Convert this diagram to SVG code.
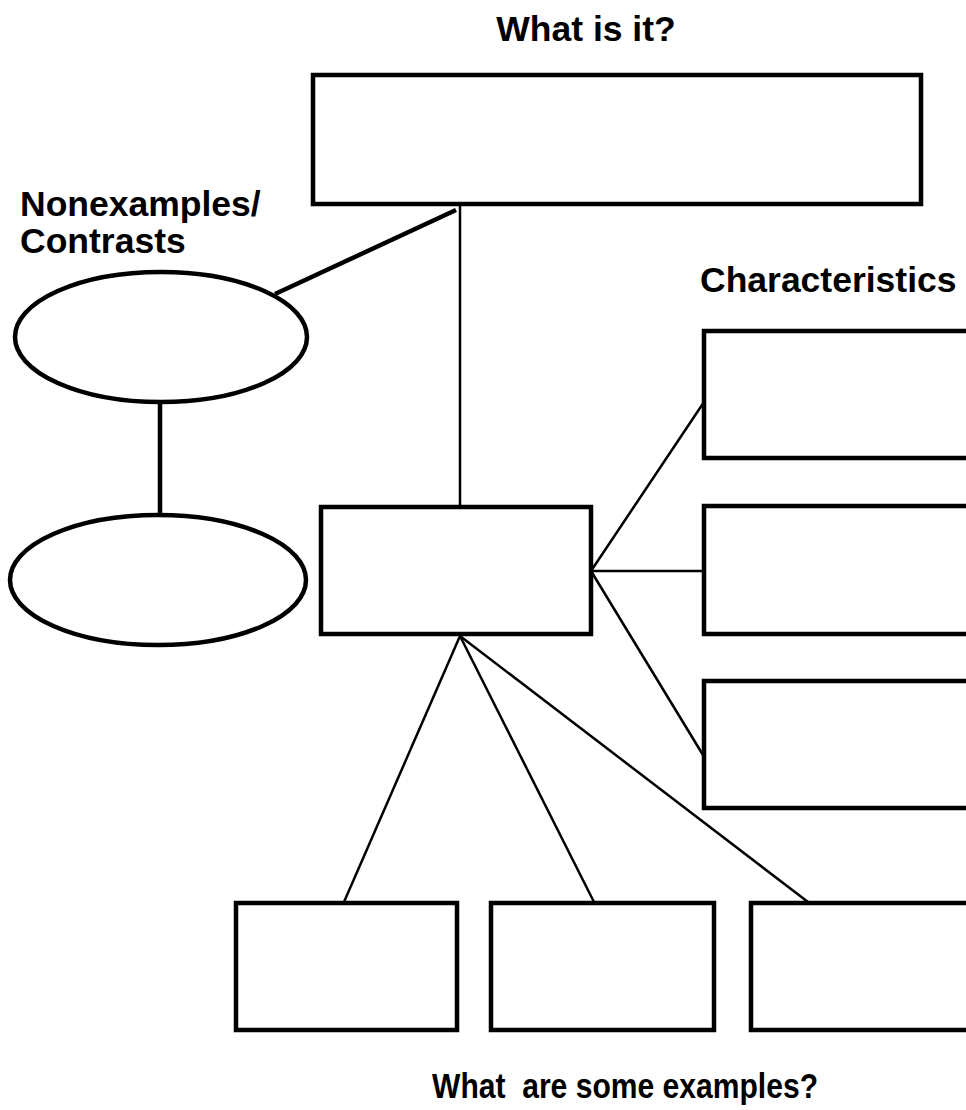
<svg xmlns="http://www.w3.org/2000/svg" width="966" height="1110" viewBox="0 0 966 1110">
<style>
.box{fill:#fff;stroke:#000;stroke-width:4.5}
.ell{fill:#fff;stroke:#000;stroke-width:4.5}
.thin{stroke:#000;stroke-width:2.5;fill:none}
.thick{stroke:#000;stroke-width:4.5;fill:none}
.lbl{font-family:"Liberation Sans",Arial,sans-serif;font-weight:bold;font-size:35.5px;fill:#000}
</style>
<rect width="966" height="1110" fill="#fff"/>
<g id="connectors">
<line class="thin" x1="460" y1="205" x2="460" y2="506"/>
<line class="thick" x1="456" y1="210" x2="275" y2="294"/>
<line class="thick" x1="160" y1="402" x2="160" y2="515"/>
<line class="thin" x1="591" y1="571" x2="704" y2="402"/>
<line class="thin" x1="591" y1="571" x2="704" y2="571"/>
<line class="thin" x1="591" y1="571" x2="703" y2="755"/>
<line class="thin" x1="460" y1="636" x2="344" y2="902"/>
<line class="thin" x1="460" y1="636" x2="594" y2="902"/>
<line class="thin" x1="460" y1="636" x2="808" y2="902"/>
</g>
<g id="what-is-it">
<rect class="box" x="313" y="75" width="608" height="129"/>
<text class="lbl" x="586" y="41" text-anchor="middle">What is it?</text>
</g>
<g id="nonexamples-label">
<text class="lbl" x="20" y="216">Nonexamples/</text>
<text class="lbl" x="20" y="253">Contrasts</text>
</g>
<g id="nonexample-1">
<ellipse class="ell" cx="161" cy="337" rx="146" ry="65"/>
</g>
<g id="nonexample-2">
<ellipse class="ell" cx="158" cy="580" rx="148" ry="65"/>
</g>
<g id="center">
<rect class="box" x="321" y="507" width="270" height="127"/>
</g>
<g id="characteristics-label">
<text class="lbl" x="700" y="292">Characteristics</text>
</g>
<g id="char-1">
<rect class="box" x="704" y="331" width="270" height="127"/>
</g>
<g id="char-2">
<rect class="box" x="704" y="506" width="270" height="128"/>
</g>
<g id="char-3">
<rect class="box" x="704" y="681" width="270" height="127"/>
</g>
<g id="example-1">
<rect class="box" x="236" y="903" width="221" height="127"/>
</g>
<g id="example-2">
<rect class="box" x="491" y="903" width="223" height="127"/>
</g>
<g id="example-3">
<rect class="box" x="751" y="903" width="230" height="127"/>
</g>
<g id="examples-label">
<text class="lbl" x="432" y="1098" xml:space="preserve" textLength="386" lengthAdjust="spacingAndGlyphs">What  are some examples?</text>
</g>
</svg>
